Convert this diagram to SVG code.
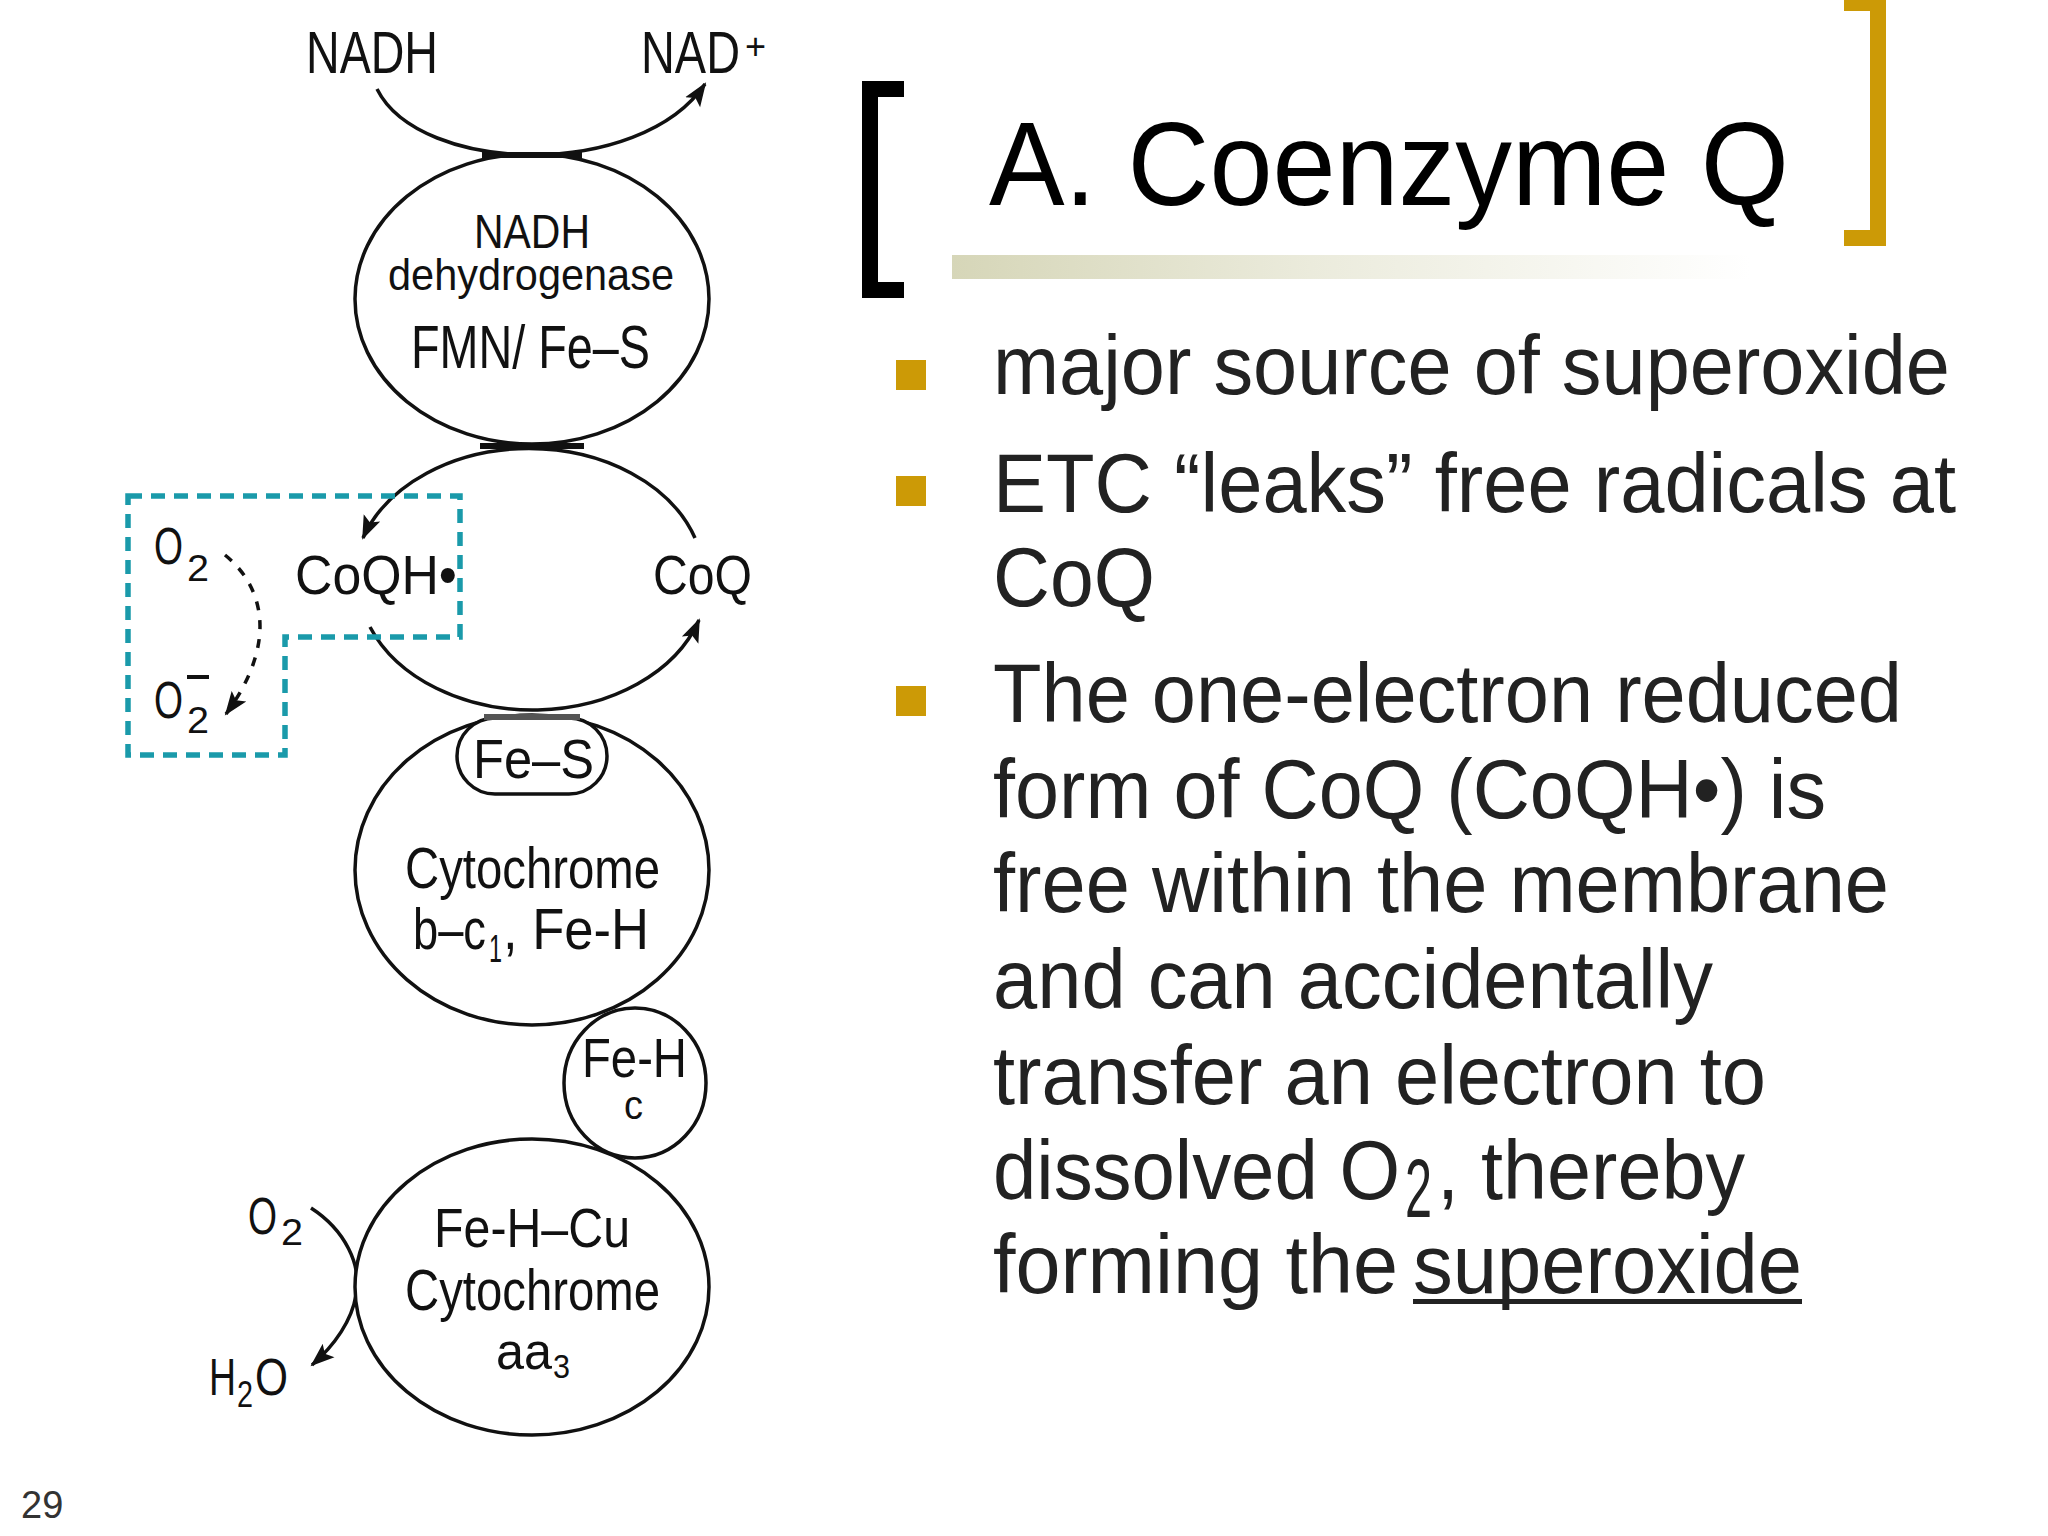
<svg xmlns="http://www.w3.org/2000/svg" width="2048" height="1536" viewBox="0 0 2048 1536">
<style>
.d{font-family:"Liberation Sans",Arial,sans-serif;fill:#111;}
.b{font-family:"Liberation Sans",Arial,sans-serif;fill:#222;font-size:84px;}
.ln{fill:none;stroke:#111;stroke-width:3.5;}
.sh{fill:#fff;stroke:#111;stroke-width:3.5;}
.bul{fill:#cc9a06;}
</style>
<defs>
<marker id="ah" markerUnits="userSpaceOnUse" markerWidth="26" markerHeight="20" refX="22" refY="10" orient="auto">
<path d="M0,1 L24,10 L0,19 L5,10 z" fill="#111"/>
</marker>
<linearGradient id="gb" x1="0" y1="0" x2="1" y2="0">
<stop offset="0" stop-color="#d6d6b8"/>
<stop offset="0.45" stop-color="#ebebdc"/>
<stop offset="1" stop-color="#ffffff"/>
</linearGradient>
</defs>
<rect width="2048" height="1536" fill="#fff"/>

<!-- title decorations -->
<g id="title">
<path d="M862,81 H904 V97 H878 V282 H904 V298 H862 Z" fill="#000"/>
<path d="M1844,0 H1886 V246 H1844 V230 H1870 V11 H1844 Z" fill="#cc9a06"/>
<rect x="952" y="255" width="798" height="24" fill="url(#gb)"/>
<text x="989" y="205" font-family="Liberation Sans, Arial, sans-serif" font-size="118" fill="#000" textLength="800" lengthAdjust="spacingAndGlyphs">A. Coenzyme Q</text>
</g>

<!-- bullets -->
<g id="bullets">
<rect class="bul" x="896" y="360" width="30" height="30"/>
<rect class="bul" x="896" y="476" width="30" height="30"/>
<rect class="bul" x="896" y="686" width="30" height="30"/>
<text class="b" x="993" y="394" textLength="957" lengthAdjust="spacingAndGlyphs">major source of superoxide</text>
<text class="b" x="993" y="512" textLength="963" lengthAdjust="spacingAndGlyphs">ETC “leaks” free radicals at</text>
<text class="b" x="993" y="606" textLength="162" lengthAdjust="spacingAndGlyphs">CoQ</text>
<text class="b" x="993" y="722" textLength="909" lengthAdjust="spacingAndGlyphs">The one-electron reduced</text>
<text class="b" x="993" y="818" textLength="833" lengthAdjust="spacingAndGlyphs">form of CoQ (CoQH•) is</text>
<text class="b" x="993" y="912" textLength="896" lengthAdjust="spacingAndGlyphs">free within the membrane</text>
<text class="b" x="993" y="1008" textLength="720" lengthAdjust="spacingAndGlyphs">and can accidentally</text>
<text class="b" x="993" y="1104" textLength="773" lengthAdjust="spacingAndGlyphs">transfer an electron to</text>
<text class="b" x="993" y="1199" textLength="407" lengthAdjust="spacingAndGlyphs">dissolved O</text>
<text class="b" x="1405" y="1217" font-size="52" textLength="27" lengthAdjust="spacingAndGlyphs">2</text>
<text class="b" x="1437" y="1199" textLength="308" lengthAdjust="spacingAndGlyphs">, thereby</text>
<text class="b" x="993" y="1293" textLength="405" lengthAdjust="spacingAndGlyphs">forming the </text>
<text class="b" x="1413" y="1293" textLength="389" lengthAdjust="spacingAndGlyphs">superoxide</text>
<rect x="1413" y="1299" width="389" height="5" fill="#222"/>
</g>

<!-- connectors -->
<g id="connectors">
<path class="ln" d="M377,89 C420,175 640,180 705,84" marker-end="url(#ah)"/>
<path class="ln" d="M695,538 A175,131 0 0 0 363,538" marker-end="url(#ah)"/>
<path class="ln" d="M370,627 A175,131 0 0 0 699,620" marker-end="url(#ah)"/>
<path class="ln" d="M225,555 C262,585 280,640 226,714" stroke-dasharray="9,10" marker-end="url(#ah)"/>
<path class="ln" d="M311,1208 C345,1230 362,1265 356,1295 C352,1320 335,1345 312,1365" marker-end="url(#ah)"/>
<path d="M128,496 H460 V637 H285 V755 H128 Z" fill="none" stroke="#1a9aaa" stroke-width="5.5" stroke-dasharray="14,9"/>
</g>

<!-- top labels -->
<g id="nadh-label">
<text class="d" x="306" y="73" font-size="60" textLength="132" lengthAdjust="spacingAndGlyphs">NADH</text>
</g>
<g id="nadplus-label">
<text class="d" x="641" y="73" font-size="60" textLength="99" lengthAdjust="spacingAndGlyphs">NAD</text>
<text class="d" x="745" y="59" font-size="36">+</text>
</g>

<!-- complex I -->
<g id="complex1">
<ellipse class="sh" cx="532" cy="299" rx="177" ry="145"/>
<text class="d" x="474" y="248" font-size="48" textLength="116" lengthAdjust="spacingAndGlyphs">NADH</text>
<text class="d" x="388" y="290" font-size="44" textLength="286" lengthAdjust="spacingAndGlyphs">dehydrogenase</text>
<text class="d" x="411" y="368" font-size="62" textLength="239" lengthAdjust="spacingAndGlyphs">FMN/ Fe–S</text>
</g>
<line x1="480" y1="446" x2="584" y2="446" stroke="#111" stroke-width="6"/>
<line x1="482" y1="155" x2="582" y2="155" stroke="#111" stroke-width="6"/>

<!-- CoQ cycle labels -->
<g id="coqh">
<text class="d" x="295" y="594" font-size="55" textLength="162" lengthAdjust="spacingAndGlyphs">CoQH•</text>
</g>
<g id="coq">
<text class="d" x="653" y="594" font-size="55" textLength="99" lengthAdjust="spacingAndGlyphs">CoQ</text>
</g>
<g id="o2-top">
<text class="d" x="154" y="564" font-size="52" textLength="29" lengthAdjust="spacingAndGlyphs">O</text>
<text class="d" x="187" y="581" font-size="36" textLength="22" lengthAdjust="spacingAndGlyphs">2</text>
</g>
<g id="superoxide">
<text class="d" x="154" y="718" font-size="52" textLength="29" lengthAdjust="spacingAndGlyphs">O</text>
<text class="d" x="187" y="733" font-size="36" textLength="22" lengthAdjust="spacingAndGlyphs">2</text>
<rect x="187" y="675" width="22" height="4" fill="#111"/>
</g>

<!-- complex III -->
<g id="complex3">
<ellipse class="sh" cx="532" cy="870" rx="177" ry="155"/>
<text class="d" x="405" y="888" font-size="58" textLength="255" lengthAdjust="spacingAndGlyphs">Cytochrome</text>
<text class="d" x="413" y="949" font-size="58" textLength="73" lengthAdjust="spacingAndGlyphs">b–c</text>
<text class="d" x="489" y="962" font-size="38" textLength="13" lengthAdjust="spacingAndGlyphs">1</text>
<text class="d" x="503" y="949" font-size="58" textLength="146" lengthAdjust="spacingAndGlyphs">, Fe-H</text>
</g>
<g id="fes">
<rect x="457" y="718" width="150" height="76" rx="38" ry="38" class="sh"/>
<text class="d" x="473" y="778" font-size="56" textLength="121" lengthAdjust="spacingAndGlyphs">Fe–S</text>
</g>
<line x1="484" y1="717" x2="580" y2="717" stroke="#555" stroke-width="6"/>

<!-- complex IV -->
<g id="complex4">
<ellipse class="sh" cx="532" cy="1287" rx="177" ry="148"/>
<text class="d" x="434" y="1247" font-size="56" textLength="196" lengthAdjust="spacingAndGlyphs">Fe-H–Cu</text>
<text class="d" x="405" y="1310" font-size="58" textLength="255" lengthAdjust="spacingAndGlyphs">Cytochrome</text>
<text class="d" x="496" y="1369" font-size="52" textLength="56" lengthAdjust="spacingAndGlyphs">aa</text>
<text class="d" x="553" y="1378" font-size="34" textLength="17" lengthAdjust="spacingAndGlyphs">3</text>
</g>

<!-- cytochrome c -->
<g id="cytc">
<ellipse class="sh" cx="635" cy="1083" rx="71" ry="75"/>
<text class="d" x="582" y="1077" font-size="56" textLength="105" lengthAdjust="spacingAndGlyphs">Fe-H</text>
<text class="d" x="624" y="1119" font-size="40" textLength="19" lengthAdjust="spacingAndGlyphs">c</text>
</g>

<g id="o2-bottom">
<text class="d" x="248" y="1234" font-size="52" textLength="29" lengthAdjust="spacingAndGlyphs">O</text>
<text class="d" x="281" y="1245" font-size="36" textLength="22" lengthAdjust="spacingAndGlyphs">2</text>
</g>
<g id="h2o">
<text class="d" x="209" y="1395" font-size="52" textLength="27" lengthAdjust="spacingAndGlyphs">H</text>
<text class="d" x="237" y="1407" font-size="36" textLength="16" lengthAdjust="spacingAndGlyphs">2</text>
<text class="d" x="255" y="1395" font-size="52" textLength="33" lengthAdjust="spacingAndGlyphs">O</text>
</g>

<text x="21" y="1518" font-family="Liberation Sans, Arial, sans-serif" font-size="38" fill="#333">29</text>
</svg>
